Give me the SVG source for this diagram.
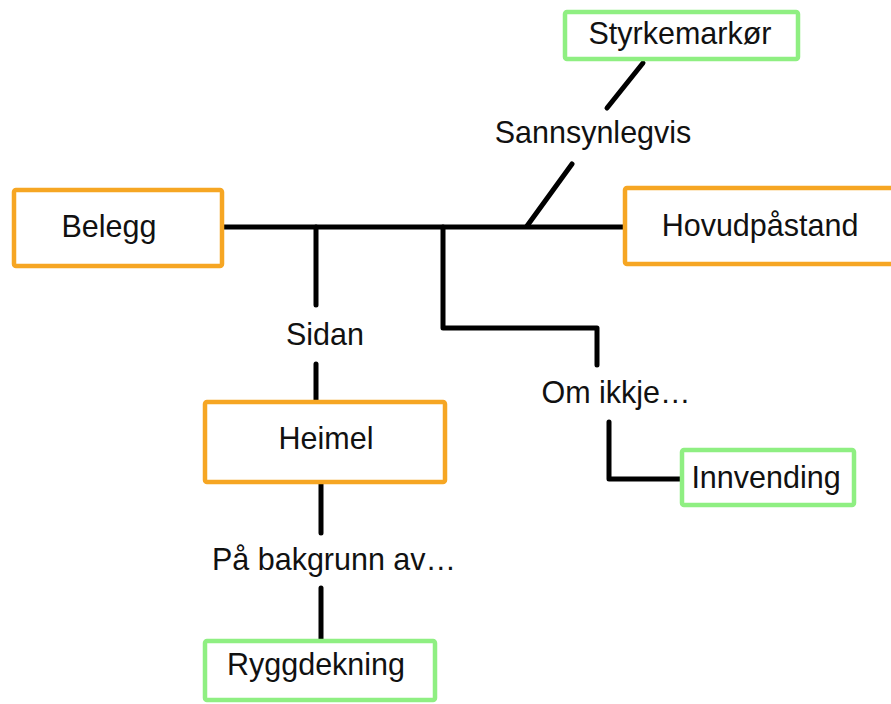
<svg xmlns="http://www.w3.org/2000/svg" width="891" height="704" viewBox="0 0 891 704">
<style>
.bg{fill:#ffffff}
.box{fill:#ffffff;stroke-width:4.5}
.main{stroke:#F6A623}
.side{stroke:#8FEF82}
.lbl{font-family:"Liberation Sans","Helvetica","Arial",sans-serif;font-size:30.5px;fill:#111111;text-anchor:middle}
.conn{fill:none;stroke:#000000;stroke-width:5;stroke-linecap:round;stroke-linejoin:round}
</style>
<rect class="bg" x="0" y="0" width="891" height="704"/>
<g id="connectors">
<path class="conn" d="M224 227 H623"/>
<path class="conn" d="M316 227 V305"/>
<path class="conn" d="M316 364 V400"/>
<path class="conn" d="M443 227 V328 H597 V365"/>
<path class="conn" d="M609 422 V479 H680"/>
<path class="conn" d="M321 484 V533"/>
<path class="conn" d="M321 588 V639"/>
<path class="conn" d="M527 226 L572 164"/>
<path class="conn" d="M607 108 L643 63"/>
<text class="lbl" x="593" y="143">Sannsynlegvis</text>
<text class="lbl" x="325" y="345">Sidan</text>
<text class="lbl" x="616" y="403">Om ikkje…</text>
<text class="lbl" x="334" y="570">På bakgrunn av…</text>
</g>
<g id="belegg">
<rect class="box main" x="14" y="190" width="208" height="76" rx="2"/>
<text class="lbl" x="109" y="237">Belegg</text>
</g>
<g id="hovudpastand">
<rect class="box main" x="625" y="188" width="272" height="76" rx="2"/>
<text class="lbl" x="760" y="236">Hovudpåstand</text>
</g>
<g id="styrkemarkor">
<rect class="box side" x="565" y="12" width="233" height="47" rx="2"/>
<text class="lbl" x="680" y="44">Styrkemarkør</text>
</g>
<g id="heimel">
<rect class="box main" x="205" y="402" width="240" height="80" rx="2"/>
<text class="lbl" x="326" y="449">Heimel</text>
</g>
<g id="innvending">
<rect class="box side" x="682" y="450" width="172" height="55" rx="2"/>
<text class="lbl" x="766" y="488">Innvending</text>
</g>
<g id="ryggdekning">
<rect class="box side" x="205" y="641" width="230" height="59" rx="2"/>
<text class="lbl" x="316" y="675">Ryggdekning</text>
</g>
</svg>
